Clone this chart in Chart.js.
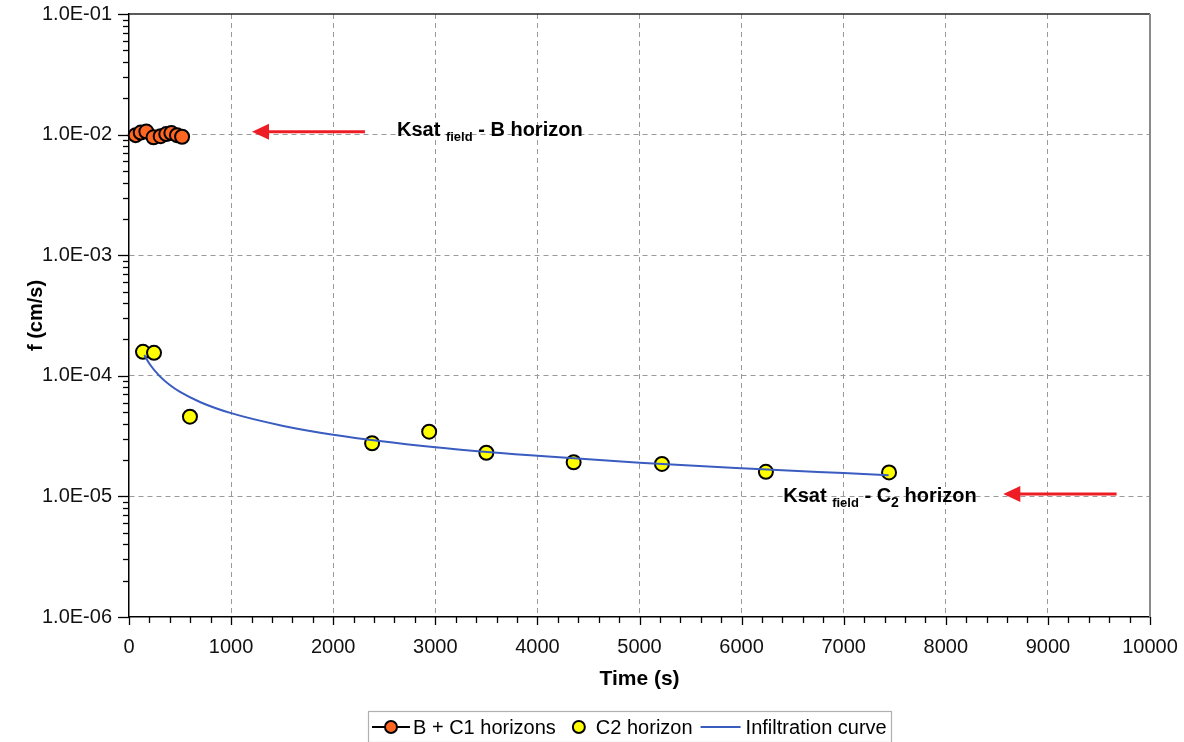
<!DOCTYPE html>
<html><head><meta charset="utf-8">
<script src="https://cdn.jsdelivr.net/npm/chart.js@4/dist/chart.umd.min.js"></script>
<style>html,body{margin:0;padding:0;background:#fff;}#wrap{width:1184px;height:742px;}</style>
</head><body><div id="wrap"><canvas id="c" width="1184" height="742"></canvas></div>
<script>
// ---- data ----
const seriesNames = ['B + C1 horizons', 'C2 horizon', 'Infiltration curve'];
const bc1Time = [65, 115, 170, 240, 310, 365, 415, 470, 520];
const bc1F = [0.0099, 0.0104, 0.0106, 0.0095, 0.0097, 0.0101, 0.0103, 0.0099, 0.0096];
const c2Time = [137, 245, 597, 2381, 2940, 3500, 4355, 5220, 6238, 7444];
const c2F = [1.58e-4, 1.55e-4, 4.58e-5, 2.76e-5, 3.44e-5, 2.30e-5, 1.92e-5, 1.86e-5, 1.60e-5, 1.58e-5];
const curveTime = [150, 200, 300, 400, 500, 700, 1000, 1500, 2000, 3000, 4000, 5000, 6000, 7000, 7440];
const curveF = [1.49e-4, 1.26e-4, 9.94e-5, 8.39e-5, 7.35e-5, 6.04e-5, 4.90e-5, 3.86e-5, 3.25e-5, 2.56e-5, 2.17e-5, 1.90e-5, 1.71e-5, 1.56e-5, 1.50e-5];
const xTickLabels = ['0', '1000', '2000', '3000', '4000', '5000', '6000', '7000', '8000', '9000', '10000'];
const yTickValues = [1e-6, 1e-5, 1e-4, 1e-3, 1e-2, 1e-1];
const yTickLabels = ['1.0E-06', '1.0E-05', '1.0E-04', '1.0E-03', '1.0E-02', '1.0E-01'];
const xTitle = 'Time (s)';
const yTitle = 'f (cm/s)';

// ---- annotation layout (data coordinates) ----
const notes = [
  { from: [2311, 0.01057], to: [1205, 0.01057], textAt: [2625, 0.00974],
    parts: [['Ksat ', 0], ['field', 1], [' - B horizon', 0]] },
  { from: [9673, 1.047e-5], to: [8563, 1.047e-5], textAt: [6408, 8.94e-6],
    parts: [['Ksat ', 0], ['field', 1], [' - C', 0], ['2', 2], [' horizon', 0]] }
];

const FONT = '"Liberation Sans", Arial, sans-serif';
const COLORS = { orange: '#FF6622', yellow: '#FFFF00', blue: '#3A5CC0', grid: '#9a9a9a', red: '#EE1C24' };

function zip(xs, ys) { return xs.map((x, i) => ({ x: x, y: ys[i] })); }
function isPow10(v) { const e = Math.log10(v); return Math.abs(e - Math.round(e)) < 1e-6; }
function noPad(s) { s.paddingTop = 0; s.paddingBottom = 0; s.paddingLeft = 0; s.paddingRight = 0; }

const yMinorTicks = [];
for (let e = -6; e <= -2; e++) for (let m = 1; m <= 9; m++) yMinorTicks.push(parseFloat(m + 'e' + e));
yMinorTicks.push(1e-1);

const decoPlugin = {
  id: 'deco',
  afterDraw(chart) {
    const ctx = chart.ctx, xs = chart.scales.x, ys = chart.scales.y, a = chart.chartArea;
    ctx.save();
    // frame: top and right
    ctx.lineWidth = 1.5; ctx.strokeStyle = '#222';
    ctx.beginPath(); ctx.moveTo(a.left, a.top); ctx.lineTo(a.right, a.top); ctx.stroke();
    ctx.lineWidth = 2; ctx.strokeStyle = '#8a8a8a';
    ctx.beginPath(); ctx.moveTo(a.right, a.top); ctx.lineTo(a.right, a.bottom); ctx.stroke();
    // tick marks
    ctx.strokeStyle = '#000'; ctx.lineWidth = 1.3;
    ys.ticks.forEach(t => {
      const py = Math.round(ys.getPixelForValue(t.value)) + 0.5;
      const len = isPow10(t.value) ? 11 : 6;
      ctx.beginPath(); ctx.moveTo(a.left - len, py); ctx.lineTo(a.left, py); ctx.stroke();
    });
    xs.ticks.forEach(t => {
      const px = Math.round(xs.getPixelForValue(t.value)) + 0.5;
      const len = (t.value % 1000 === 0) ? 8 : 6;
      ctx.beginPath(); ctx.moveTo(px, a.bottom); ctx.lineTo(px, a.bottom + len); ctx.stroke();
    });
    // annotations
    notes.forEach(n => {
      const x1 = xs.getPixelForValue(n.from[0]), y1 = ys.getPixelForValue(n.from[1]);
      const x2 = xs.getPixelForValue(n.to[0]), y2 = ys.getPixelForValue(n.to[1]);
      const head = 17, hw = 8;
      ctx.strokeStyle = COLORS.red; ctx.fillStyle = COLORS.red; ctx.lineWidth = 3;
      ctx.beginPath(); ctx.moveTo(x1, y1); ctx.lineTo(x2 + head - 2, y2); ctx.stroke();
      ctx.beginPath(); ctx.moveTo(x2, y2); ctx.lineTo(x2 + head, y2 - hw); ctx.lineTo(x2 + head, y2 + hw); ctx.closePath(); ctx.fill();
      let tx = xs.getPixelForValue(n.textAt[0]);
      const ty = ys.getPixelForValue(n.textAt[1]);
      ctx.fillStyle = '#000'; ctx.textBaseline = 'alphabetic'; ctx.textAlign = 'left';
      n.parts.forEach(p => {
        const size = p[1] === 0 ? 20 : (p[1] === 1 ? 13 : 14);
        const dy = p[1] === 0 ? 0 : 5;
        ctx.font = 'bold ' + size + 'px ' + FONT;
        ctx.fillText(p[0], tx, ty + dy);
        tx += ctx.measureText(p[0]).width;
      });
    });
    // legend
    const ds = chart.data.datasets;
    ctx.font = '20px ' + FONT;
    const w = ds.map(d => ctx.measureText(d.label).width);
    const m1 = 38, m2 = 14, m3 = 40;
    const total = 4 + m1 + 3 + w[0] + 16 + m2 + 10 + w[1] + 8 + m3 + 5 + w[2] + 4;
    const bx = Math.round(629 - total / 2), by = 711, bh = 31, cy = by + 16;
    ctx.lineWidth = 1.2; ctx.strokeStyle = '#b0b0b0';
    ctx.strokeRect(bx + 0.5, by + 0.5, Math.round(total), bh);
    let cx = bx + 4;
    // marker 1: line + circle
    ctx.strokeStyle = '#000'; ctx.lineWidth = 2;
    ctx.beginPath(); ctx.moveTo(cx, cy); ctx.lineTo(cx + m1, cy); ctx.stroke();
    ctx.beginPath(); ctx.arc(cx + m1 / 2, cy, 6, 0, Math.PI * 2);
    ctx.fillStyle = ds[0].pointBackgroundColor; ctx.fill(); ctx.lineWidth = 2; ctx.stroke();
    cx += m1 + 3;
    ctx.fillStyle = '#000'; ctx.textBaseline = 'middle'; ctx.textAlign = 'left';
    ctx.fillText(ds[0].label, cx, cy + 1); cx += w[0] + 16;
    ctx.beginPath(); ctx.arc(cx + m2 / 2, cy, 6, 0, Math.PI * 2);
    ctx.fillStyle = ds[1].pointBackgroundColor; ctx.fill(); ctx.strokeStyle = '#000'; ctx.lineWidth = 2; ctx.stroke();
    cx += m2 + 10;
    ctx.fillStyle = '#000'; ctx.fillText(ds[1].label, cx, cy + 1); cx += w[1] + 8;
    ctx.strokeStyle = ds[2].borderColor; ctx.lineWidth = 2;
    ctx.beginPath(); ctx.moveTo(cx, cy); ctx.lineTo(cx + m3, cy); ctx.stroke();
    cx += m3 + 5;
    ctx.fillStyle = '#000'; ctx.fillText(ds[2].label, cx, cy + 1);
    ctx.restore();
  }
};

new Chart(document.getElementById('c'), {
  type: 'scatter',
  data: {
    datasets: [
      { label: seriesNames[0], data: zip(bc1Time, bc1F), showLine: true, borderColor: '#000', borderWidth: 1.5,
        pointBackgroundColor: COLORS.orange, pointBorderColor: '#000', pointBorderWidth: 2, pointRadius: 7, order: 1, clip: false },
      { label: seriesNames[1], data: zip(c2Time, c2F), showLine: false,
        pointBackgroundColor: COLORS.yellow, pointBorderColor: '#000', pointBorderWidth: 2, pointRadius: 7, order: 2, clip: false },
      { label: seriesNames[2], data: zip(curveTime, curveF), showLine: true, borderColor: COLORS.blue, borderWidth: 2,
        pointRadius: 0, cubicInterpolationMode: 'monotone', order: 0, clip: false }
    ]
  },
  options: {
    responsive: false, animation: false, devicePixelRatio: 1,
    layout: { padding: { left: 20, right: 34, top: 14, bottom: 50 } },
    plugins: { legend: { display: false }, tooltip: { enabled: false } },
    scales: {
      x: {
        type: 'linear', min: 0, max: 10000,
        afterFit(s) { s.height = 75; noPad(s); },
        ticks: { stepSize: 200, autoSkip: false, maxRotation: 0, padding: 18, color: '#111',
          font: { family: FONT, size: 20 },
          callback: v => (v % 1000 === 0 ? xTickLabels[v / 1000] : '') },
        grid: { drawTicks: false,
          color: c => (c.tick && c.tick.value % 1000 === 0 && c.tick.value > 0 && c.tick.value < 10000) ? COLORS.grid : 'rgba(0,0,0,0)',
          lineWidth: 1 },
        border: { display: true, color: '#000', width: 1.5, dash: [5, 4] },
        title: { display: true, text: xTitle, color: '#000', font: { family: FONT, size: 21, weight: 'bold' }, padding: { top: 0, bottom: 0 } }
      },
      y: {
        type: 'logarithmic', min: 1e-6, max: 1e-1,
        afterFit(s) { s.width = 109; noPad(s); },
        afterBuildTicks(s) { s.ticks = yMinorTicks.map(v => ({ value: v })); },
        ticks: { autoSkip: false, padding: 17, color: '#111', font: { family: FONT, size: 20 },
          callback: v => { const i = yTickValues.findIndex(t => Math.abs(t - v) / t < 1e-6); return i >= 0 ? yTickLabels[i] : ''; } },
        grid: { drawTicks: false,
          color: c => (c.tick && isPow10(c.tick.value) && c.tick.value > 1.5e-6 && c.tick.value < 0.09) ? COLORS.grid : 'rgba(0,0,0,0)',
          lineWidth: 1 },
        border: { display: true, color: '#000', width: 1.5, dash: [5, 4] },
        title: { display: true, text: yTitle, color: '#000', font: { family: FONT, size: 20, weight: 'bold' }, padding: { top: 4, bottom: 4 } }
      }
    }
  },
  plugins: [decoPlugin]
});
</script></body></html>
